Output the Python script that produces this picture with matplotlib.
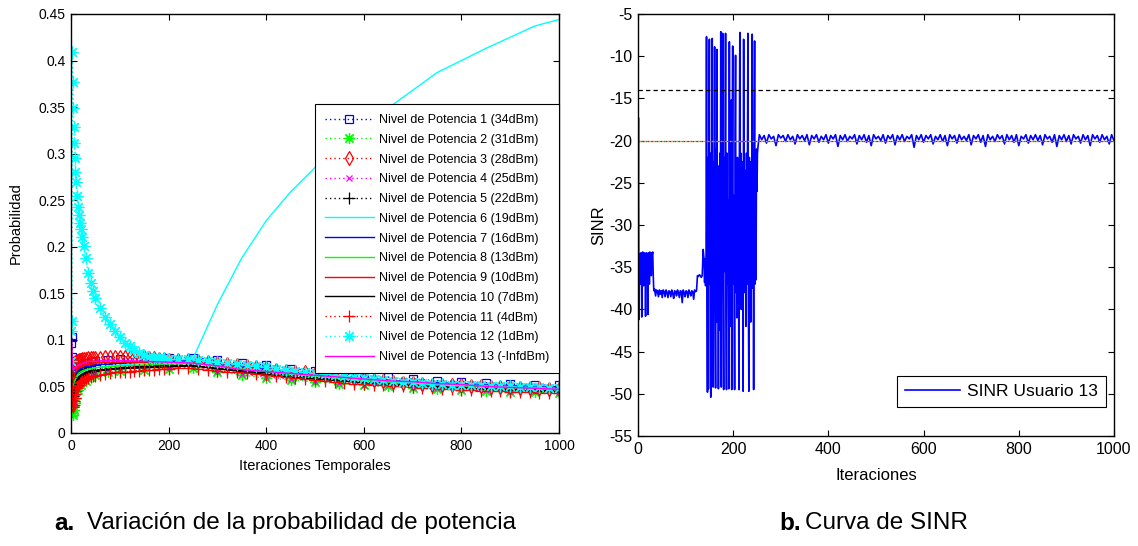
import matplotlib
matplotlib.use("Agg")
import matplotlib.pyplot as plt
import numpy as np

plt.rcParams['font.family'] = ['Liberation Sans', 'DejaVu Sans']
plt.rcParams['axes.unicode_minus'] = False

# ---------------- (a) probabilidad de cada nivel de potencia ----------------
iters_fine = (list(range(0, 11)) + list(range(12, 21, 2)) + [23, 26, 30, 35, 40, 45]
              + list(range(50, 201, 10)) + list(range(220, 1001, 20)))
iters_coarse = [0, 1, 2, 3, 4, 5, 6, 8, 10, 15, 20, 30, 40, 50, 75, 100, 150, 200, 250,
                300, 350, 400, 450, 500, 550, 600, 650, 700, 750, 800, 850, 900, 950, 1000]

# coarse-grid series
p1 = [0.077, 0.097, 0.103, 0.082, 0.068, 0.066, 0.067, 0.069, 0.070, 0.072,
      0.073, 0.075, 0.076, 0.077, 0.078, 0.079, 0.081, 0.081, 0.081,
      0.078, 0.075, 0.073, 0.069, 0.067, 0.064, 0.062, 0.060, 0.058, 0.056, 0.055, 0.054, 0.053, 0.052, 0.051]
p2 = [0.077, 0.050, 0.032, 0.022, 0.019, 0.021, 0.025, 0.032, 0.038, 0.046,
      0.051, 0.056, 0.060, 0.062, 0.065, 0.067, 0.068, 0.069, 0.070,
      0.066, 0.062, 0.059, 0.057, 0.055, 0.053, 0.051, 0.050, 0.048, 0.047, 0.046, 0.045, 0.044, 0.044, 0.043]
p4 = [0.077, 0.058, 0.042, 0.034, 0.031, 0.034, 0.039, 0.046, 0.051, 0.057,
      0.060, 0.063, 0.065, 0.066, 0.068, 0.069, 0.070, 0.071, 0.072,
      0.067, 0.063, 0.060, 0.058, 0.056, 0.054, 0.052, 0.051, 0.049, 0.048, 0.047, 0.046, 0.045, 0.045, 0.044]
p6 = [0.077, 0.060, 0.050, 0.045, 0.042, 0.045, 0.050, 0.055, 0.058, 0.062,
      0.064, 0.067, 0.069, 0.070, 0.072, 0.073, 0.075, 0.077, 0.080,
      0.138, 0.188, 0.228, 0.259, 0.285, 0.307, 0.328, 0.349, 0.368, 0.387, 0.400, 0.413, 0.425, 0.437, 0.444]
p7 = [0.077, 0.075, 0.068, 0.062, 0.060, 0.061, 0.062, 0.064, 0.065, 0.067,
      0.069, 0.071, 0.072, 0.073, 0.074, 0.075, 0.076, 0.077, 0.078,
      0.075, 0.072, 0.069, 0.066, 0.063, 0.061, 0.059, 0.057, 0.055, 0.054, 0.053, 0.052, 0.051, 0.050, 0.049]
p8 = [0.077, 0.070, 0.060, 0.052, 0.048, 0.050, 0.053, 0.057, 0.060, 0.064,
      0.066, 0.068, 0.069, 0.070, 0.071, 0.072, 0.073, 0.074, 0.075,
      0.072, 0.069, 0.066, 0.063, 0.061, 0.059, 0.057, 0.055, 0.054, 0.052, 0.051, 0.050, 0.049, 0.048, 0.047]
p9 = [0.077, 0.072, 0.064, 0.057, 0.054, 0.056, 0.060, 0.064, 0.066, 0.069,
      0.071, 0.073, 0.074, 0.075, 0.076, 0.076, 0.076, 0.076, 0.076,
      0.073, 0.070, 0.067, 0.064, 0.062, 0.060, 0.058, 0.056, 0.054, 0.053, 0.052, 0.050, 0.049, 0.048, 0.047]
p10 = [0.077, 0.062, 0.050, 0.043, 0.040, 0.043, 0.047, 0.052, 0.055, 0.060,
       0.062, 0.065, 0.066, 0.067, 0.068, 0.069, 0.070, 0.071, 0.072,
       0.069, 0.066, 0.063, 0.060, 0.058, 0.056, 0.054, 0.052, 0.051, 0.049, 0.048, 0.047, 0.046, 0.045, 0.044]
p13 = [0.077, 0.100, 0.090, 0.075, 0.068, 0.068, 0.069, 0.070, 0.071, 0.073,
       0.074, 0.076, 0.077, 0.077, 0.078, 0.078, 0.077, 0.076, 0.075,
       0.072, 0.068, 0.066, 0.064, 0.062, 0.060, 0.058, 0.056, 0.055, 0.053, 0.052, 0.050, 0.049, 0.048, 0.047]

# fine-grid series (dense markers)
p3 = [0.077, 0.060, 0.045, 0.032, 0.030, 0.045, 0.065, 0.072, 0.075, 0.076, 0.076,
      0.077, 0.077, 0.078, 0.078, 0.078,
      0.079, 0.079, 0.079, 0.080, 0.080, 0.080,
      0.081, 0.081, 0.082, 0.082, 0.082, 0.082, 0.082, 0.082, 0.082, 0.082, 0.082, 0.081, 0.080, 0.079, 0.079, 0.078,
      0.078, 0.078, 0.077, 0.076, 0.075, 0.074, 0.073, 0.072, 0.071, 0.070,
      0.068, 0.067, 0.066, 0.065, 0.063, 0.062, 0.061, 0.060, 0.059, 0.058,
      0.057, 0.056, 0.055, 0.054, 0.054, 0.053, 0.052, 0.052, 0.051, 0.051,
      0.050, 0.050, 0.049, 0.049, 0.049, 0.048, 0.048, 0.048, 0.047, 0.047]
p5 = [0.077, 0.058, 0.048, 0.042, 0.040, 0.042, 0.045, 0.048, 0.051, 0.054, 0.056,
      0.058, 0.060, 0.061, 0.062, 0.063,
      0.064, 0.065, 0.066, 0.066, 0.067, 0.067,
      0.068, 0.068, 0.069, 0.069, 0.070, 0.070, 0.071, 0.071, 0.071, 0.072, 0.072, 0.072, 0.072, 0.073, 0.073, 0.073,
      0.073, 0.073, 0.072, 0.071, 0.070, 0.069, 0.068, 0.067, 0.066, 0.065,
      0.064, 0.063, 0.062, 0.061, 0.060, 0.059, 0.058, 0.057, 0.056, 0.055,
      0.055, 0.054, 0.053, 0.052, 0.052, 0.051, 0.050, 0.050, 0.049, 0.049,
      0.048, 0.048, 0.047, 0.047, 0.047, 0.046, 0.046, 0.046, 0.045, 0.045]
p11 = [0.077, 0.060, 0.045, 0.035, 0.030, 0.028, 0.030, 0.034, 0.038, 0.042, 0.045,
       0.048, 0.050, 0.052, 0.054, 0.055,
       0.056, 0.057, 0.058, 0.059, 0.060, 0.061,
       0.061, 0.062, 0.063, 0.064, 0.065, 0.065, 0.066, 0.066, 0.067, 0.067, 0.068, 0.068, 0.068, 0.069, 0.069, 0.069,
       0.070, 0.070, 0.069, 0.068, 0.067, 0.066, 0.065, 0.064, 0.063, 0.062,
       0.061, 0.060, 0.059, 0.058, 0.057, 0.056, 0.055, 0.054, 0.053, 0.053,
       0.052, 0.051, 0.050, 0.050, 0.049, 0.048, 0.048, 0.047, 0.047, 0.046,
       0.046, 0.045, 0.045, 0.045, 0.044, 0.044, 0.044, 0.043, 0.043, 0.043]
p12 = [0.077, 0.110, 0.120, 0.409, 0.377, 0.349, 0.329, 0.311, 0.295, 0.280, 0.270,
       0.254, 0.243, 0.234, 0.226, 0.219,
       0.210, 0.201, 0.188, 0.172, 0.161, 0.152,
       0.145, 0.134, 0.125, 0.117, 0.109, 0.103, 0.097, 0.093, 0.089, 0.086, 0.084, 0.082, 0.081, 0.080, 0.080, 0.079,
       0.079, 0.079, 0.078, 0.077, 0.076, 0.075, 0.074, 0.073, 0.072, 0.071,
       0.069, 0.068, 0.067, 0.066, 0.064, 0.063, 0.062, 0.061, 0.060, 0.059,
       0.058, 0.057, 0.056, 0.055, 0.055, 0.054, 0.053, 0.053, 0.052, 0.052,
       0.051, 0.051, 0.050, 0.050, 0.050, 0.049, 0.049, 0.049, 0.048, 0.048]

level_dbm = ['34', '31', '28', '25', '22', '19', '16', '13', '10', '7', '4', '1', '-Inf']
prob_series = [p1, p2, p3, p4, p5, p6, p7, p8, p9, p10, p11, p12, p13]
prob_ticks = [0, 0.05, 0.1, 0.15, 0.2, 0.25, 0.3, 0.35, 0.4, 0.45]
prob_tick_labels = ['0', '0.05', '0.1', '0.15', '0.2', '0.25', '0.3', '0.35', '0.4', '0.45']

# ---------------- (b) curva de SINR ----------------
sinr_a = [-30.5, -17.3, -41.2, -33.4, -33.6, -37.0, -33.3, -33.5, -40.9, -33.4,
          -33.2, -33.6, -37.2, -33.4, -33.3, -33.5, -40.8, -33.4, -33.3, -33.6,
          -33.4, -40.6, -33.3, -33.5, -37.0, -33.2, -33.4, -33.6, -36.0, -33.3,
          -33.5, -33.2, -35.8, -37.5, -37.8]                        # it. 0..34
sinr_b = [-37.6, -38.4, -37.7, -37.9, -38.5, -37.7, -38.2, -37.8, -38.6, -37.7,
          -37.9, -38.5, -37.7, -38.0, -38.6, -37.8, -37.9, -38.5, -37.7, -38.1,
          -38.7, -37.8, -37.9, -38.4, -37.7, -38.0, -38.6, -37.8, -37.9, -39.2,
          -37.7, -38.0, -38.5, -37.8, -37.9, -38.6, -37.7, -38.0, -38.4, -37.8,
          -37.9, -38.8, -37.7, -37.9, -37.8]                        # it. 35..123, paso 2
sinr_c_iter = [125, 127, 129, 131, 133, 135, 137, 138, 139, 140, 141, 142, 143]
sinr_c = [-36.0, -36.1, -35.9, -36.0, -36.2, -36.0, -32.9, -33.6, -34.2, -36.8, -34.0, -37.2, -35.5]
sinr_d = [-7.7, -36.5, -49.8, -22.0, -49.4, -24.0, -8.0, -37.0, -21.5, -50.4,
          -26.5, -38.0, -7.9, -40.5, -49.2, -22.5, -36.0, -8.9, -38.5, -49.3,
          -21.0, -41.5, -9.2, -35.0, -23.0, -49.4, -26.0, -37.5, -21.5, -42.5,
          -7.1, -49.2, -24.5, -36.5, -7.3, -38.0, -49.5, -22.0, -35.5, -25.0,
          -7.3, -40.0, -49.5, -21.5, -37.0, -27.0, -36.0, -49.4, -8.3, -38.5,
          -23.0, -42.0, -15.2, -49.5, -22.5, -8.8, -37.0, -26.5, -36.5, -49.5,
          -21.0, -9.9, -38.0, -24.0, -41.0, -22.0, -36.5, -25.5, -49.5, -23.0,
          -7.2, -37.5, -21.5, -40.0, -27.0, -35.5, -22.5, -49.7, -8.0, -38.0,
          -23.5, -36.0, -26.0, -42.0, -21.5, -37.0, -24.0, -7.3, -39.0, -49.7,
          -22.0, -36.5, -30.5, -41.5, -22.5, -37.5, -7.4, -35.0, -26.0, -49.5,
          -23.0, -8.2, -37.0, -25.0, -36.5, -21.0, -26.0, -21.5, -20.8]   # it. 144..252
sinr_tail = [-19.3, -19.9, -19.4, -20.3, -19.3, -19.8, -19.5, -20.6, -19.3, -19.7,
             -19.4, -20.1, -19.3, -19.9, -19.5, -20.4, -19.3, -19.8, -19.4, -20.0,
             -19.3, -20.5, -19.4, -19.8, -19.3, -20.2, -19.5, -19.9, -19.3, -20.3,
             -19.4, -19.8, -19.3, -20.7, -19.4, -19.9, -19.3, -20.1, -19.5, -19.8,
             -19.3, -20.4, -19.4, -19.9, -19.3, -20.2, -19.4, -20.6, -19.3, -19.8,
             -19.5, -20.0, -19.3, -20.3, -19.4, -19.8, -19.3, -20.5, -19.4, -19.9,
             -19.3, -20.1, -19.5, -19.8, -19.3, -20.8, -19.4, -19.9, -19.3, -20.2,
             -19.4, -19.8, -19.3, -20.4, -19.5, -19.9, -19.3, -20.1, -19.4, -20.6,
             -19.3, -19.8, -19.4, -20.3, -19.3, -19.9, -19.5, -20.0, -19.3, -20.5,
             -19.4, -19.8, -19.3, -20.2, -19.4, -20.7, -19.3, -19.9, -19.5, -20.1,
             -19.3, -19.8, -19.4, -20.4, -19.3, -19.9, -19.4, -20.2, -19.3, -20.6,
             -19.5, -19.8, -19.3, -20.3, -19.4, -19.9, -19.3, -20.0, -19.4, -20.5,
             -19.3, -19.8, -19.5, -20.2, -19.3, -20.7, -19.4, -19.9, -19.3, -20.1,
             -19.4, -20.4, -19.3, -19.8, -19.5, -20.3, -19.3, -19.9, -19.4, -20.6,
             -19.3, -19.8, -19.4, -20.2, -19.3, -19.9, -19.5, -20.4, -19.3, -20.0]  # it. 255..1000, paso 5
sinr_target = -14
sinr_min = -20

# ---------------- figura ----------------
fig = plt.figure(figsize=(11.38, 5.46), dpi=100)
ax1 = fig.add_axes([0.0624, 0.2070, 0.4288, 0.7674])
ax2 = fig.add_axes([0.5606, 0.2015, 0.4183, 0.7729])

BLUE, GREEN, RED, CYAN, MAG, BLACK = '#0000ff', '#00ff00', '#ff0000', '#00ffff', '#ff00ff', '#000000'
star = (8, 2, 0)
dotted = (0, (1, 2.2))
styles = [
    (BLUE, dotted, 's', 6), (GREEN, dotted, star, 8), (RED, dotted, 'd', 7.5), (MAG, dotted, 'x', 5),
    (BLACK, dotted, '+', 8), (CYAN, '-', None, 0), (BLUE, '-', None, 0), (GREEN, '-', None, 0),
    (RED, '-', None, 0), (BLACK, '-', None, 0), (RED, dotted, '+', 8), (CYAN, dotted, star, 8.5),
    (MAG, '-', None, 0),
]

for i, (vals, (col, ls, mk, ms)) in enumerate(zip(prob_series, styles)):
    xs = iters_fine if len(vals) == len(iters_fine) else iters_coarse
    ax1.plot(xs, vals, color=col, linestyle=ls, linewidth=1.0, marker=mk, markersize=ms,
             markerfacecolor='none', markeredgecolor=col, markeredgewidth=0.9,
             label='Nivel de Potencia %d (%sdBm)' % (i + 1, level_dbm[i]))

ax1.set_xlim(0, 1000)
ax1.set_ylim(0, 0.45)
ax1.set_xticks([0, 200, 400, 600, 800, 1000])
ax1.set_yticks(prob_ticks)
ax1.set_yticklabels(prob_tick_labels)
ax1.tick_params(direction='in', top=True, right=True, length=4, width=0.8, labelsize=10, pad=4)
ax1.set_xlabel('Iteraciones Temporales', fontsize=10.5)
ax1.set_ylabel('Probabilidad', fontsize=10.5)
ax1.xaxis.set_label_coords(0.5, -0.062)
ax1.yaxis.set_label_coords(-0.098, 0.5)
leg1 = ax1.legend(loc='upper right', bbox_to_anchor=(1.0, 0.785), borderaxespad=0, fontsize=9,
                  numpoints=1, handlelength=3.9, handletextpad=0.4, labelspacing=0.62,
                  borderpad=0.8, fancybox=False, edgecolor='black', framealpha=1)
leg1.get_frame().set_linewidth(0.8)

# SINR
x_a = np.arange(len(sinr_a))
x_b = 35 + 2 * np.arange(len(sinr_b))
x_d = 144 + np.arange(len(sinr_d))
x_t = 255 + 5 * np.arange(len(sinr_tail))
sinr_x = np.concatenate([x_a, x_b, sinr_c_iter, x_d, x_t])
sinr_y = np.concatenate([sinr_a, sinr_b, sinr_c, sinr_d, sinr_tail])
ax2.plot(sinr_x, sinr_y, color=BLUE, linewidth=1.2, label='SINR Usuario 13')
ax2.plot([0, 1000], [sinr_target, sinr_target], color='black', linewidth=0.9, dashes=(3.5, 2.5))
for off, col in zip([0, 1.2, 2.4], ['#ff0000', '#00b000', '#ff9900']):
    ax2.plot([0, 1000], [sinr_min, sinr_min], color=col, linewidth=0.9, linestyle=(off, (1.2, 2.4)))

ax2.set_xlim(0, 1000)
ax2.set_ylim(-55, -5)
ax2.set_xticks([0, 200, 400, 600, 800, 1000])
ax2.set_yticks(np.arange(-55, -4, 5))
ax2.tick_params(direction='in', top=True, right=True, length=4, width=0.8, labelsize=11.5, pad=4)
ax2.set_xlabel('Iteraciones', fontsize=12)
ax2.set_ylabel('SINR', fontsize=12)
ax2.xaxis.set_label_coords(0.5, -0.075)
ax2.yaxis.set_label_coords(-0.066, 0.5)
leg2 = ax2.legend(loc='lower right', bbox_to_anchor=(0.983, 0.069), borderaxespad=0, fontsize=12.5,
                  handlelength=3.2, handletextpad=0.4, borderpad=0.45, fancybox=False,
                  edgecolor='black', framealpha=1)
leg2.get_frame().set_linewidth(0.8)

for ax in (ax1, ax2):
    for s in ax.spines.values():
        s.set_linewidth(1.0)

# pies de figura
fig.text(54 / 1138, 0.042, 'a.', fontsize=17.5, fontweight='bold', va='center')
fig.text(87 / 1138, 0.042, 'Variación de la probabilidad de potencia', fontsize=17.5, va='center')
fig.text(779 / 1138, 0.042, 'b.', fontsize=17.5, fontweight='bold', va='center')
fig.text(805 / 1138, 0.042, 'Curva de SINR', fontsize=17.5, va='center')

fig.savefig('out.png', dpi=100)
